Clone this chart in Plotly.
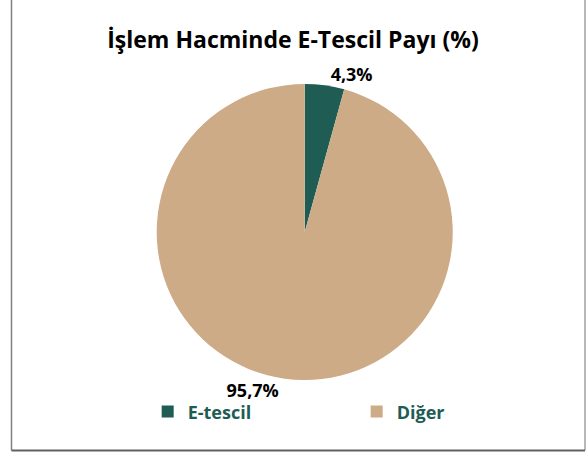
import plotly.graph_objects as go

labels = ["E-tescil", "Diğer"]
values = [4.3, 95.7]
colors = ["#1e5c54", "#cdab87"]

title_text = "İşlem Hacminde E-Tescil Payı (%)"

fig = go.Figure(
    go.Pie(
        labels=labels,
        values=values,
        sort=False,
        direction="clockwise",
        rotation=0,
        marker=dict(colors=colors, line=dict(width=0)),
        texttemplate="<b>%{value:.1f}%</b>",
        textposition="outside",
        outsidetextfont=dict(family="Open Sans", size=18, color="#000000"),
        domain=dict(x=[0.2, 0.84], y=[0.163, 0.815]),
        hoverinfo="label+percent",
    )
)

fig.update_layout(
    width=586,
    height=454,
    separators=",.",
    paper_bgcolor="white",
    plot_bgcolor="white",
    margin=dict(l=0, r=0, t=0, b=0),
    title=dict(
        text=f"<b>{title_text}</b>",
        x=0.5,
        xanchor="center",
        y=0.912,
        yanchor="middle",
        font=dict(family="Open Sans", size=23, color="#000000"),
    ),
    legend=dict(
        orientation="h",
        x=0.252,
        xanchor="left",
        y=0.093,
        yanchor="middle",
        entrywidth=164,
        entrywidthmode="pixels",
        itemwidth=30,
        bgcolor="rgba(0,0,0,0)",
        font=dict(family="Open Sans", size=18, color="#1e5c54", weight="bold"),
    ),
    shapes=[
        dict(type="line", xref="paper", yref="paper", x0=11.5 / 586, x1=11.5 / 586, y0=3.5 / 454, y1=1,
             line=dict(color="#808080", width=1.5)),
        dict(type="line", xref="paper", yref="paper", x0=585 / 586, x1=585 / 586, y0=3.5 / 454, y1=1,
             line=dict(color="#a0a0a0", width=1.5)),
        dict(type="line", xref="paper", yref="paper", x0=11.5 / 586, x1=585 / 586,
             y0=3.5 / 454, y1=3.5 / 454, line=dict(color="#606060", width=2)),
    ],
)

fig.write_html(
    "out.html",
    config=dict(displayModeBar=False),
    post_script=(
        "document.body.style.margin='0';"
        "document.body.style.overflow='hidden';"
        "document.documentElement.style.overflow='hidden';"
    ),
)
